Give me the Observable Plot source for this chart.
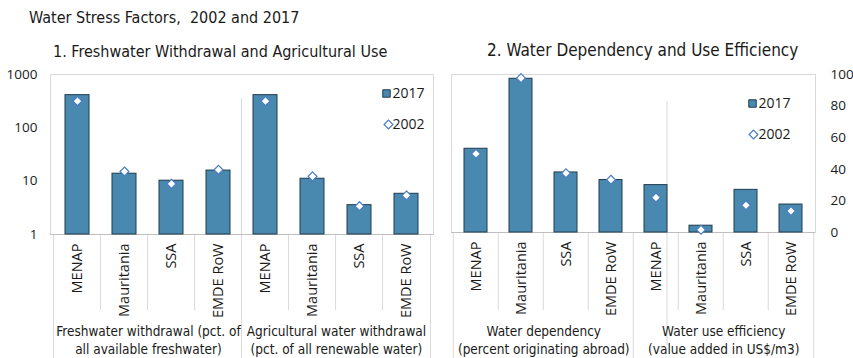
<!DOCTYPE html>
<html>
<head>
<meta charset="utf-8">
<script src="https://cdn.jsdelivr.net/npm/d3@7"></script>
<script src="https://cdn.jsdelivr.net/npm/@observablehq/plot@0.6"></script>
<style>
  html, body { margin: 0; padding: 0; background: #fff; }
  #wrap { position: relative; width: 853px; height: 358px; overflow: hidden; background: #fff; }
  .ttl { position: absolute; font-family: "Liberation Sans Narrow", "DejaVu Sans Condensed", sans-serif; font-stretch: condensed; color: #1a1a1a; white-space: pre; }
  #wrap svg { position: absolute; top: 0; }
</style>
</head>
<body>
<div id="wrap">
  <div class="ttl" id="t0" style="left:29px; top:8px; font-size:16px;">Water Stress Factors,  2002 and 2017</div>
  <div class="ttl" id="t1" style="left:53px; top:42px; font-size:16px;">1. Freshwater Withdrawal and Agricultural Use</div>
  <div class="ttl" id="t2" style="left:487px; top:40px; font-size:17px;">2. Water Dependency and Use Efficiency</div>
</div>
<script>
// ---- data ----
const regions = ["MENAP", "Mauritania", "SSA", "EMDE RoW"];
const cats = [...regions, ...regions];
const seriesNames = ["2017", "2002"];

const p1Groups = ["Freshwater withdrawal (pct. of\nall available freshwater)",
                  "Agricultural water withdrawal\n(pct. of all renewable water)"];
const p1Ticks = [1, 10, 100, 1000];
const p1v2017 = [410, 13.8, 10.2, 15.8, 410, 11.1, 3.55, 5.8];
const p1v2002 = [317, 15.2, 8.9, 16.3, 317, 12.3, 3.4, 5.4];

const p2Groups = ["Water dependency\n(percent originating abroad)",
                  "Water use efficiency\n(value added in US$/m3)"];
const p2Ticks = [0, 20, 40, 60, 80, 100];
const p2v2017 = [53, 97.3, 38, 33.2, 30, 4.3, 27, 17.7];
const p2v2002 = [49.8, 97.7, 37.5, 33.4, 22.1, 1.7, 17.2, 13.6];

// ---- styling ----
const BAR = "#4a89af", BAR_STROKE = "#1f3b4e", DIA = "#4a7cc4", GRID = "#d9d9d9", AXIS = "#bfbfbf";
const SANS = "'Open Sans', sans-serif";
const NARROW = "'Liberation Sans Narrow', 'DejaVu Sans Condensed', sans-serif";
const keys = cats.map((_, i) => String(i));

function panel({width, mt, mb, ml, mr, yScale, yAxis, v17, v02, groups, legend, divider}) {
  const rows = keys.map((k, i) => ({k, cat: cats[i], v17: v17[i], v02: v02[i]}));
  const plotW = width - ml - mr;
  const plotH = 358 - mt - mb;
  const step = plotW / keys.length;
  const ybase = yScale.type === "log" ? 1 : 0;
  return Plot.plot({
    width, height: 358, marginTop: mt, marginBottom: mb, marginLeft: ml, marginRight: mr,
    x: {domain: keys, paddingInner: 0.5, paddingOuter: 0.25, axis: null},
    y: {...yScale, axis: null},
    style: {fontFamily: SANS, fontSize: "13px", color: "#1a1a1a", background: "transparent", overflow: "visible"},
    marks: [
      Plot.frame({stroke: GRID}),
      // minor category separators
      Plot.ruleX(rows.filter((d, i) => i % 4 !== 0), {x: "k", dx: -step / 2, stroke: GRID, insetTop: plotH, insetBottom: -(mb - 48)}),
      // major separators (panel edges and group boundary)
      Plot.ruleX(rows.filter((d, i) => i % 4 === 0), {x: "k", dx: -step / 2, stroke: GRID, insetTop: plotH, insetBottom: -mb}),
      Plot.ruleX([rows[7]], {x: "k", dx: step / 2, stroke: GRID, insetTop: plotH, insetBottom: -mb}),
      // in-plot divider line
      Plot.ruleX([rows[4]], {x: "k", dx: divider.dx, stroke: GRID, insetTop: divider.top, insetBottom: divider.bottom}),
      Plot.ruleY([ybase], {stroke: AXIS}),
      Plot.barY(rows, {x: "k", y1: ybase, y2: "v17", fill: BAR, stroke: BAR_STROKE, strokeWidth: 1}),
      Plot.dot(rows, {x: "k", y: "v02", symbol: "diamond2", r: 4, fill: "white", stroke: DIA, strokeWidth: 1.2}),
      Plot.axisX({label: null, tickRotate: -90, tickSize: 0, tickPadding: 9, tickFormat: (k) => cats[+k],
        fontSize: 14.5, fontFamily: SANS, fill: "#1a1a1a"}),
      Plot.axisY(yAxis),
      Plot.text(groups, {x: (d, i) => keys[i * 4 + 1], dx: step / 2, frameAnchor: "bottom", lineAnchor: "middle", dy: mb - 19,
        lineHeight: 1.3, fontFamily: NARROW, fontSize: 13.5, fill: "#1a1a1a"}),
      // legend
      Plot.dot([seriesNames[0]], {frameAnchor: "top-right", dx: legend.sx, dy: legend.y1, symbol: "square", r: 4.2, fill: BAR, stroke: BAR_STROKE, strokeWidth: 1}),
      Plot.text([seriesNames[0]], {text: d => d, frameAnchor: "top-right", lineAnchor: "middle", dx: legend.tx, dy: legend.y1, textAnchor: "start", fontSize: 14, fontFamily: SANS, fill: "#1a1a1a"}),
      Plot.dot([seriesNames[1]], {frameAnchor: "top-right", dx: legend.dx, dy: legend.y2, symbol: "diamond2", r: 4, fill: "white", stroke: DIA, strokeWidth: 1.2}),
      Plot.text([seriesNames[1]], {text: d => d, frameAnchor: "top-right", lineAnchor: "middle", dx: legend.tx, dy: legend.y2, textAnchor: "start", fontSize: 14, fontFamily: SANS, fill: "#1a1a1a"})
    ]
  });
}

const left = panel({
  width: 440, mt: 74, mb: 124, ml: 50, mr: 7,
  yScale: {type: "log", domain: [1, 1000]},
  yAxis: {anchor: "left", label: null, ticks: p1Ticks, tickFormat: d => String(d), tickSize: 0, tickPadding: 13, fontSize: 13.5, fontFamily: SANS, fill: "#1a1a1a"},
  v17: p1v2017, v02: p1v2002, groups: p1Groups,
  legend: {sx: -47, dx: -45, tx: -41, y1: 19, y2: 50},
  divider: {dx: -383 / 16, top: 24, bottom: 0}
});
left.style.left = "0px";

const right = panel({
  width: 413, mt: 74, mb: 126, ml: 11, mr: 38,
  yScale: {type: "linear", domain: [0, 100]},
  yAxis: {anchor: "right", label: null, ticks: p2Ticks, tickSize: 0, tickPadding: 15, fontSize: 13.5, fontFamily: SANS, fill: "#1a1a1a", textAnchor: "start"},
  v17: p2v2017, v02: p2v2002, groups: p2Groups,
  legend: {sx: -63, dx: -62, tx: -57, y1: 29, y2: 60},
  divider: {dx: 11, top: 27, bottom: -113}
});
right.style.left = "440px";

const wrap = document.getElementById("wrap");
wrap.appendChild(left);
wrap.appendChild(right);
</script>
</body>
</html>
